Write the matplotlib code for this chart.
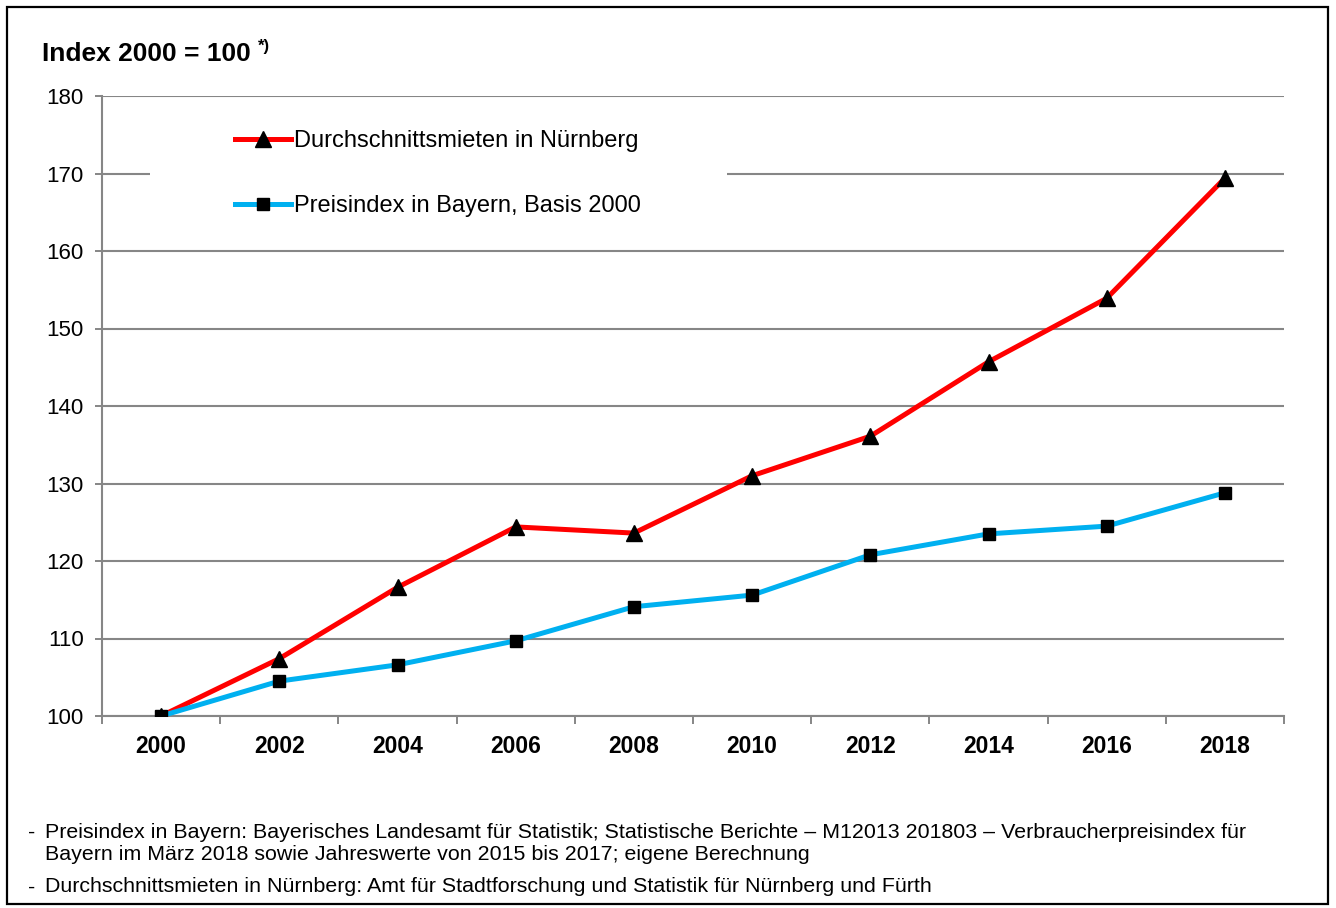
import matplotlib
matplotlib.use('Agg')
from matplotlib import pyplot as plt
from matplotlib.patches import Rectangle
import numpy as np

plt.rcParams['font.family'] = ['Liberation Sans', 'DejaVu Sans']

years = ['2000', '2002', '2004', '2006', '2008', '2010', '2012', '2014', '2016', '2018']
mieten = [100.0, 107.4, 116.6, 124.4, 123.6, 131.0, 136.1, 145.7, 153.9, 169.4]
preisindex = [100.0, 104.5, 106.6, 109.7, 114.1, 115.6, 120.8, 123.5, 124.5, 128.8]
label_mieten = 'Durchschnittsmieten in Nürnberg'
label_preis = 'Preisindex in Bayern, Basis 2000'
yticks = [100, 110, 120, 130, 140, 150, 160, 170, 180]
# (dash?, text, y pixel)
footlines = [
    (True, 'Preisindex in Bayern: Bayerisches Landesamt für Statistik; Statistische Berichte – M12013 201803 – Verbraucherpreisindex für', 830),
    (False, 'Bayern im März 2018 sowie Jahreswerte von 2015 bis 2017; eigene Berechnung', 853),
    (True, 'Durchschnittsmieten in Nürnberg: Amt für Stadtforschung und Statistik für Nürnberg und Fürth', 885),
]

grey = '#868686'
red = '#FF0000'
blue = '#00B0F0'

fig = plt.figure(figsize=(13.36, 9.08), dpi=100)
ax = fig.add_axes([102/1336, 1 - 716/908, (1284 - 102)/1336, (716 - 96)/908])

x = np.arange(len(years))
ax.plot(x, mieten, color=red, lw=3.6, marker='^', ms=12, mfc='black', mec='black',
        label=label_mieten, zorder=3)
ax.plot(x, preisindex, color=blue, lw=3.6, marker='s', ms=9, mfc='black', mec='black',
        label=label_preis, zorder=3)

ax.set_xlim(-0.5, len(years) - 0.5)
ax.set_ylim(100, 180)
ax.set_yticks(yticks)
ax.set_yticklabels([str(v) for v in yticks], fontsize=16)
ax.set_xticks(x)
ax.set_xticklabels(years, fontsize=16.5, fontweight='bold')
ax.set_xticks(np.arange(len(years) + 1) - 0.5, minor=True)
ax.tick_params(axis='x', which='major', length=0, pad=14)
ax.tick_params(axis='x', which='minor', length=6, width=1.4, color=grey, direction='out')
ax.tick_params(axis='y', length=5, width=1.4, color=grey, direction='out', pad=8)

ax.yaxis.grid(True, color=grey, lw=1.5)
ax.set_axisbelow(True)
for s in ['top', 'right']:
    ax.spines[s].set_visible(False)
for s in ['left', 'bottom']:
    ax.spines[s].set_color(grey)
    ax.spines[s].set_linewidth(1.5)

# white box behind the legend covers part of the 170 gridline
ax.add_patch(Rectangle(((150 - 102)/1182, (716 - 235)/620), (727 - 150)/1182, 125/620,
                       transform=ax.transAxes, facecolor='white', edgecolor='none', zorder=1))
leg = ax.legend(loc='upper left', bbox_to_anchor=(223/1336, 1 - 118/908),
                bbox_transform=fig.transFigure, frameon=False, fontsize=17,
                handlelength=2.4, handletextpad=0.1, labelspacing=1.85, borderpad=0)

fig.text(42/1336, 1 - 54/908, 'Index 2000 = 100', fontsize=19, fontweight='bold', va='center')
fig.text(258/1336, 1 - 46/908, '*)', fontsize=12, fontweight='bold', va='center')

for dash, line, ypix in footlines:
    if dash:
        fig.text(28/1336, 1 - ypix/908, '-', fontsize=15.4, va='center_baseline')
    fig.text(45/1336, 1 - ypix/908, line, fontsize=15.4, va='center_baseline')

fig.add_artist(Rectangle((7/1336, 4/908), 1321/1336, 897/908, transform=fig.transFigure,
                         facecolor='none', edgecolor='black', lw=1.6))

fig.savefig('out.png', dpi=100)
